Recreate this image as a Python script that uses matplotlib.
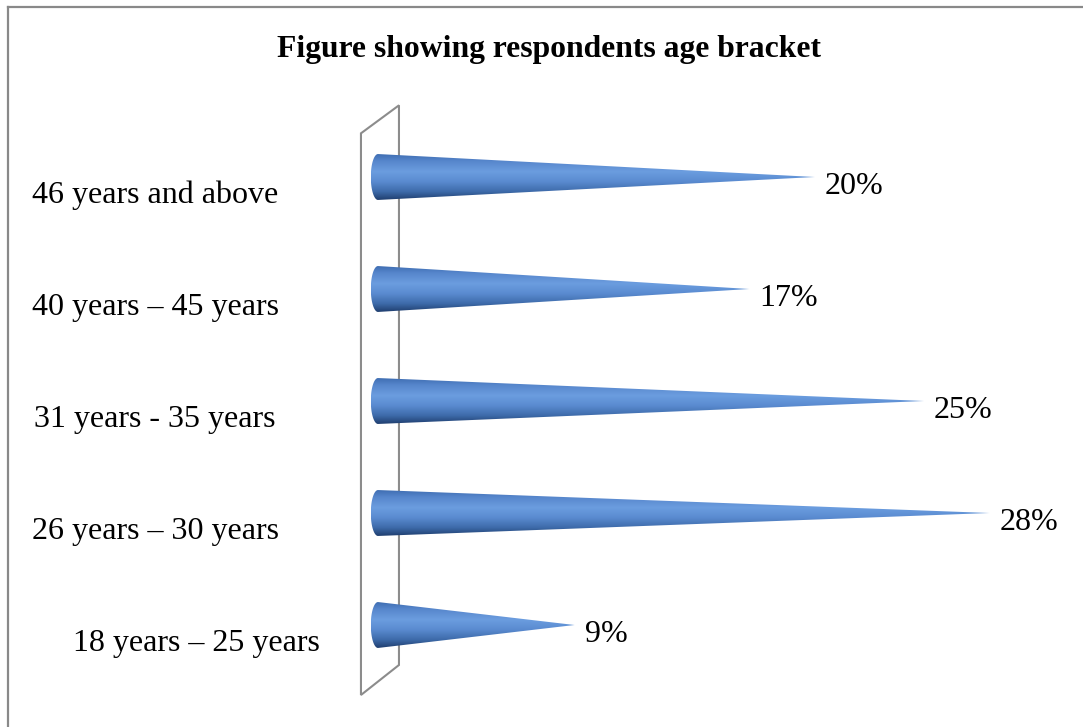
import numpy as np
import matplotlib
matplotlib.use("Agg")
import matplotlib.pyplot as plt
from matplotlib.patches import Polygon, PathPatch
from matplotlib.path import Path
from matplotlib.colors import LinearSegmentedColormap
from matplotlib.lines import Line2D

# Data
categories = ["18 years \u2013 25 years", "26 years \u2013 30 years", "31 years - 35 years",
              "40 years \u2013 45 years", "46 years and above"]
values = [9, 28, 25, 17, 20]
value_labels = ["9%", "28%", "25%", "17%", "20%"]
title = "Figure showing respondents age bracket"

plt.rcParams["font.family"] = ["Liberation Serif", "DejaVu Serif"]

W, H = 1083, 727
fig = plt.figure(figsize=(W / 100, H / 100), dpi=100)
fig.patch.set_facecolor("white")

# Plot area: x in percent, y in category index
ax = fig.add_axes([378 / W, 46 / H, 655.2 / W, 560 / H])
ax.set_xlim(0, 30)
ax.set_ylim(-0.5, 4.5)
ax.axis("off")

# Back wall of the 3-D chart (thin parallelogram)
wall = Polygon([(-0.78, 4.39), (0.96, 4.64), (0.96, -0.357), (-0.78, -0.625)],
               closed=True, facecolor="none", edgecolor="#8c8c8c", lw=1.5,
               clip_on=False, zorder=1)
ax.add_patch(wall)

# Vertical shading for the cones
cone_cmap = LinearSegmentedColormap.from_list(
    "cone",
    [(0.0, "#3f6eb2"), (0.15, "#5686cc"), (0.38, "#6b9ddf"),
     (0.6, "#5a8bd0"), (0.82, "#3d6aa9"), (1.0, "#1f3e6e")])
grad = np.linspace(0, 1, 256).reshape(-1, 1)

half_h = 0.205      # half thickness of cone base (category units)
ell_a = 0.33        # horizontal semi-axis of base ellipse (percent units)

for i, v in enumerate(values):
    yc = i
    # outline: top of base -> tip -> bottom of base -> left half of ellipse
    t = np.linspace(-np.pi / 2, np.pi / 2, 60)
    ex = -ell_a * np.cos(t)
    ey = yc + half_h * np.sin(t)
    verts = [(0, yc + half_h), (v, yc), (0, yc - half_h)]
    verts += list(zip(ex, ey))
    verts.append((0, yc + half_h))
    path = Path(verts, closed=False)
    patch = PathPatch(path, facecolor="none", edgecolor="none", clip_on=False)
    ax.add_patch(patch)
    im = ax.imshow(grad, cmap=cone_cmap, aspect="auto",
                   extent=[-ell_a, v, yc - half_h, yc + half_h],
                   origin="upper", zorder=3, interpolation="bilinear")
    im.set_clip_path(patch)
    im.set_clip_box(fig.bbox)

    ax.text(v + 0.46, yc - 0.152, value_labels[i], fontsize=23,
            ha="left", va="baseline", color="black", zorder=4, clip_on=False)

# Category labels
label_x = [-8.31, -10.21, -10.21, -10.21, -10.21]
for i, cat in enumerate(categories):
    ax.text(label_x[i], i - 0.232, cat, fontsize=23, ha="center",
            va="baseline", color="black", clip_on=False)

ax.set_xlim(0, 30)
ax.set_ylim(-0.5, 4.5)

# Title
fig.text(549 / W, 1 - 57 / H, title, fontsize=22.8, fontweight="bold",
         ha="center", va="baseline")

# Chart frame (top and left edges visible)
fig.add_artist(Line2D([8 / W, 8 / W], [0, 1 - 7 / H], transform=fig.transFigure,
                      color="#898989", lw=1.6))
fig.add_artist(Line2D([8 / W, 1], [1 - 7 / H, 1 - 7 / H], transform=fig.transFigure,
                      color="#898989", lw=1.6))

fig.savefig("out.png", dpi=100, facecolor="white")
